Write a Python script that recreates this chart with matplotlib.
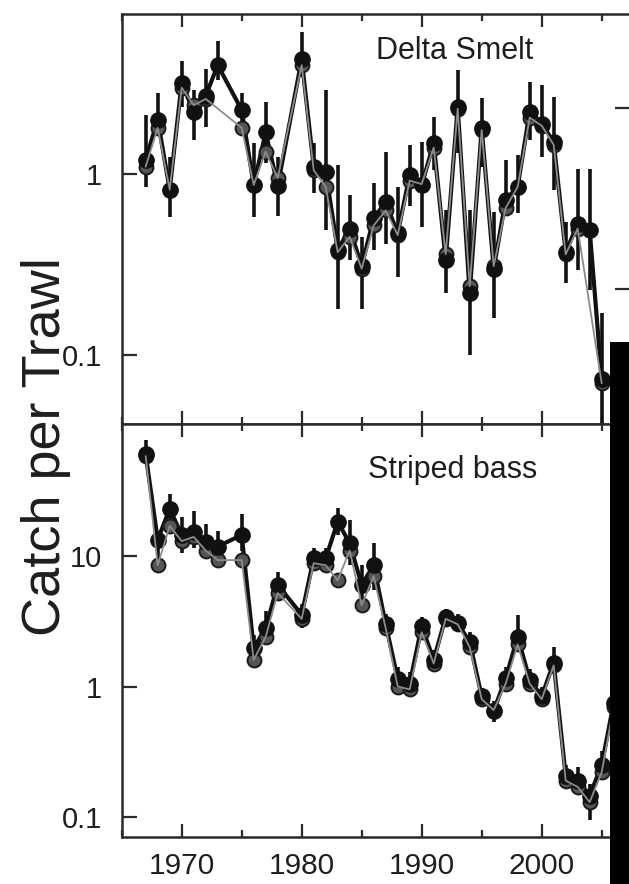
import matplotlib
matplotlib.use("Agg")
import matplotlib.pyplot as plt
import numpy as np
from matplotlib.patches import Rectangle
from matplotlib.ticker import MultipleLocator, NullFormatter, NullLocator, FixedLocator

plt.rcParams['font.family'] = ['Liberation Sans', 'DejaVu Sans']

# ---------------- Data ----------------
# Delta Smelt (black series, with error bars)
ds_years = [1967, 1968, 1969, 1970, 1971, 1972, 1973, 1975, 1976, 1977, 1978, 1980,
            1981, 1982, 1983, 1984, 1985, 1986, 1987, 1988, 1989, 1990, 1991, 1992,
            1993, 1994, 1995, 1996, 1997, 1998, 1999, 2000, 2001, 2002, 2003, 2004, 2005]
ds_vals = [1.2, 2.0, 0.82, 3.2, 2.2, 2.7, 4.0, 2.26, 0.87, 1.7, 0.86, 4.3,
           1.1, 1.03, 0.38, 0.50, 0.31, 0.57, 0.70, 0.47, 0.99, 0.87, 1.48, 0.335,
           2.35, 0.219, 1.79, 0.30, 0.72, 0.85, 2.21, 1.9, 1.5, 0.37, 0.53, 0.49, 0.074]
ds_lo = [0.85, 1.75, 0.58, 2.35, 1.54, 1.83, 3.3, 1.75, 0.58, 1.15, 0.59, 3.45,
         0.79, 0.49, 0.18, 0.335, 0.18, 0.38, 0.41, 0.27, 0.67, 0.51, 1.05, 0.22,
         1.3, 0.10, 1.1, 0.16, 0.61, 0.61, 1.54, 1.25, 0.82, 0.25, 0.295, 0.23, 0.03]
ds_hi = [2.12, 2.8, 1.25, 4.2, 2.9, 3.8, 5.4, 2.8, 1.48, 2.5, 1.25, 6.1,
         1.48, 2.9, 1.12, 0.77, 0.45, 0.89, 1.33, 0.85, 1.45, 1.51, 2.07, 0.63,
         3.76, 0.63, 2.62, 0.62, 1.19, 1.27, 3.23, 3.1, 2.67, 0.54, 1.07, 1.07, 0.17]
# Delta Smelt (grey series)
ds2_years = [1967, 1968, 1969, 1970, 1971, 1972, 1975, 1976, 1977, 1978, 1980,
             1981, 1982, 1983, 1984, 1985, 1986, 1987, 1988, 1989, 1990, 1991, 1992,
             1993, 1994, 1995, 1996, 1997, 1998, 1999, 2000, 2001, 2002, 2003, 2005]
ds2_vals = [1.1, 1.8, 0.82, 3.0, 2.4, 2.6, 1.8, 0.87, 1.33, 0.95, 4.0,
            1.05, 0.85, 0.37, 0.45, 0.30, 0.52, 0.63, 0.46, 0.92, 0.88, 1.4, 0.36,
            2.3, 0.24, 1.75, 0.31, 0.65, 0.85, 2.05, 1.85, 1.45, 0.36, 0.50, 0.07]

# Striped bass (black series, with error bars)
sb_years = [1967, 1968, 1969, 1970, 1971, 1972, 1973, 1975, 1976, 1977, 1978, 1980,
            1981, 1982, 1983, 1984, 1985, 1986, 1987, 1988, 1989, 1990, 1991, 1992,
            1993, 1994, 1995, 1996, 1997, 1998, 1999, 2000, 2001, 2002, 2003, 2004,
            2005, 2006]
sb_vals = [60, 13.3, 23, 14.5, 15.3, 12.9, 11.8, 14.5, 1.97, 2.8, 6.0, 3.55,
           9.6, 9.6, 18.3, 12.5, 6.0, 8.5, 3.0, 1.15, 1.05, 2.9, 1.6, 3.4,
           3.05, 2.2, 0.84, 0.65, 1.16, 2.4, 1.13, 0.84, 1.52, 0.207, 0.19, 0.146,
           0.25, 0.75]
sb_lo = [52, 8.5, 17, 10.5, 11.5, 9.8, 9.2, 11, 1.5, 2.2, 4.8, 2.8,
         8.0, 8.0, 14.5, 8.5, 4.0, 5.5, 2.5, 0.95, 0.85, 2.5, 1.35, 2.9,
         2.6, 1.8, 0.72, 0.53, 0.98, 2.0, 0.95, 0.7, 1.25, 0.17, 0.15, 0.095,
         0.2, 0.6]
sb_hi = [78, 15.5, 30, 20, 22, 17.5, 15.5, 21, 2.5, 3.8, 7.6, 4.3,
         11.5, 11.5, 23.5, 19, 8.5, 12.6, 3.6, 1.4, 1.3, 3.4, 1.9, 3.9,
         3.6, 2.6, 0.98, 0.78, 1.4, 3.5, 1.35, 1.0, 2.0, 0.25, 0.24, 0.18,
         0.32, 0.9]
# Striped bass (grey series)
sb2_years = [1967, 1968, 1969, 1970, 1971, 1972, 1973, 1975, 1976, 1977, 1978, 1980,
             1981, 1982, 1983, 1984, 1985, 1986, 1987, 1988, 1989, 1990, 1991, 1992,
             1993, 1994, 1995, 1996, 1997, 1998, 1999, 2000, 2001, 2002, 2003, 2004,
             2005, 2006]
sb2_vals = [58, 8.5, 17, 13, 14, 11, 9.3, 9.3, 1.6, 2.4, 5.2, 3.3,
            8.8, 8.5, 6.5, 11, 4.2, 7.0, 2.8, 1.0, 0.95, 2.6, 1.5, 3.3,
            3.0, 2.0, 0.8, 0.66, 1.05, 2.1, 1.05, 0.8, 1.45, 0.19, 0.17, 0.13,
            0.22, 0.7]

panel_labels = ["Delta Smelt", "Striped bass"]
y_label = "Catch per Trawl"
x_ticks = [1970, 1980, 1990, 2000]

# ---------------- Figure ----------------
W, H = 629, 884
fig = plt.figure(figsize=(W / 100, H / 100), dpi=100)

def px_axes(x0, y0, x1, y1):
    return fig.add_axes([x0 / W, 1 - y1 / H, (x1 - x0) / W, (y1 - y0) / H])

ax_top = px_axes(121.7, 14, 630, 424)
ax_bot = px_axes(121.7, 424, 630, 837)

spine_col = '#2a2a2a'
text_col = '#1e1e1e'

def draw(ax, yrs, vals, lo, hi, yrs2, vals2):
    yrs = np.array(yrs); vals = np.array(vals)
    lo = np.array(lo); hi = np.array(hi)
    ax.errorbar(yrs, vals, yerr=[vals - lo, hi - vals], fmt='none',
                ecolor='#111111', elinewidth=2.6, capsize=0, zorder=2)
    ax.plot(yrs, vals, '-', color='#111111', lw=3.0, zorder=3)
    ax.plot(yrs2, vals2, 'o', ms=10, mfc='#555555', mec='#1a1a1a', mew=1.4,
            zorder=4)
    ax.plot(yrs, vals, 'o', ms=11, mfc='#111111', mec='#111111', zorder=5)
    ax.plot(yrs2, vals2, '-', color='#8c8c8c', lw=1.3, zorder=6)

draw(ax_top, ds_years, ds_vals, ds_lo, ds_hi, ds2_years, ds2_vals)
draw(ax_bot, sb_years, sb_vals, sb_lo, sb_hi, sb2_years, sb2_vals)

for ax in (ax_top, ax_bot):
    ax.set_yscale('log')
    ax.set_xlim(1965.0, 2007.36)
    ax.xaxis.set_major_locator(FixedLocator(x_ticks))
    ax.xaxis.set_minor_locator(MultipleLocator(5))
    ax.tick_params(axis='x', which='major', direction='in', top=True, bottom=True,
                   length=9.5, width=1.6, color=spine_col, labelsize=21.5,
                   labelcolor=text_col, pad=11)
    ax.tick_params(axis='x', which='minor', direction='in', top=True, bottom=True,
                   length=5, width=1.6, color=spine_col)
    ax.yaxis.set_minor_locator(NullLocator())
    ax.tick_params(axis='y', which='major', direction='in', left=True, right=False,
                   length=10.5, width=1.6, color=spine_col, labelsize=21,
                   labelcolor=text_col, pad=14)
    for s in ax.spines.values():
        s.set_color(spine_col)
        s.set_linewidth(1.8)

ax_top.set_ylim(0.0416, 7.66)
ax_top.yaxis.set_major_locator(FixedLocator([0.1, 1]))
ax_top.set_yticklabels(['0.1', '1'])
ax_top.tick_params(axis='x', labelbottom=False)

ax_bot.set_ylim(0.0703, 102.6)
ax_bot.yaxis.set_major_locator(FixedLocator([0.1, 1, 10]))
ax_bot.set_yticklabels(['0.1', '1', '10'])

# right-hand axis ticks (neighbouring scale) in upper panel
ax_r = ax_top.twinx()
ax_r.set_yscale('log')
k = 10 / 2.316
ax_r.set_ylim(0.0416 * k, 7.66 * k)
ax_r.yaxis.set_major_locator(FixedLocator([1, 10]))
ax_r.yaxis.set_minor_locator(NullLocator())
ax_r.yaxis.set_major_formatter(NullFormatter())
ax_r.tick_params(axis='y', which='major', direction='in', length=10.5, width=1.6,
                 color=spine_col)
for s in ax_r.spines.values():
    s.set_visible(False)

ax_top.text(0.655, 0.91, panel_labels[0], transform=ax_top.transAxes,
            ha='center', va='center', fontsize=22, color=text_col)
ax_bot.text(0.652, 0.888, panel_labels[1], transform=ax_bot.transAxes,
            ha='center', va='center', fontsize=22, color=text_col)

fig.text(46 / W, 1 - 447 / H, y_label, rotation=90, ha='center', va='center',
         fontsize=39, color=text_col)

# black masking block present in the source image
fig.patches.append(Rectangle((610 / W, 0), 1 - 610 / W, 1 - 342 / H,
                             transform=fig.transFigure, facecolor='black',
                             edgecolor='none', zorder=10))

fig.savefig('out.png', dpi=100)
